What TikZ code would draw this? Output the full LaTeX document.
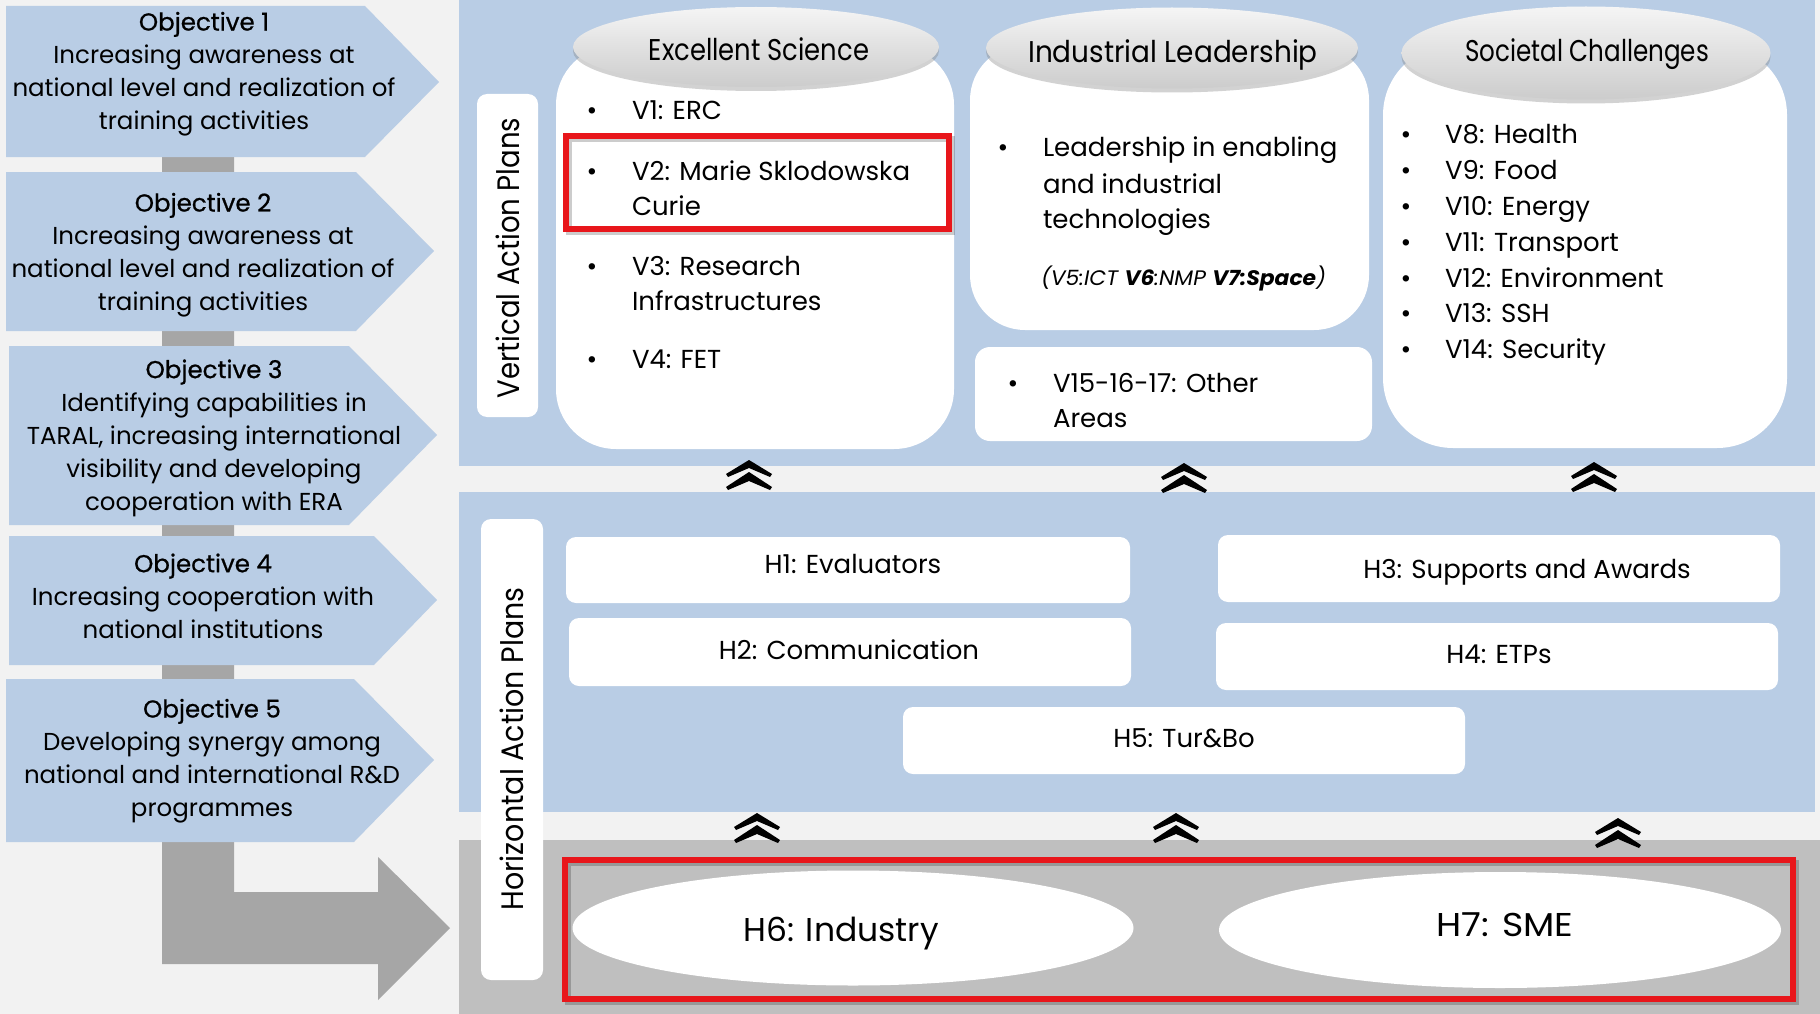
\documentclass[tikz,border=0pt]{standalone}
\usepackage{fontspec}
\setmainfont{Poppins}
\newfontfamily\headfont{Poppins}[FakeBold=0.8]
\usetikzlibrary{shapes.geometric,shadows}
\definecolor{bgc}{HTML}{F2F2F2}
\definecolor{blu}{HTML}{B9CDE5}
\definecolor{grarrow}{HTML}{A6A6A6}
\definecolor{grband}{HTML}{BFBFBF}
\definecolor{redf}{HTML}{E8161B}
\newcommand\fsz[2]{\fontsize{#1}{#2}\selectfont}
\newcommand\sx[2]{\scalebox{#1}[1]{#2}}
\newcommand\dchev[2]{%
  \fill[black] (#1,#2) -- ++(23,14) -- ++(-2,3) -- ++(-21,-9) -- ++(-21,9) -- ++(-2,-3) -- cycle;
  \fill[black] (#1,#2+12) -- ++(23,15) -- ++(-2,3) -- ++(-21,-9) -- ++(-21,9) -- ++(-2,-3) -- cycle;}
\begin{document}
\begin{tikzpicture}[x=1pt,y=-1pt,
  every node/.style={inner sep=0pt,outer sep=0pt,text=black},
  objtxt/.style={align=center,font=\fsz{24.5}{33}},
  itm/.style={anchor=base west,font=\fsz{26}{35}},
  bul/.style={anchor=base,font=\fsz{26}{35}},
  htxt/.style={anchor=base,font=\fsz{26}{35}},
  hdr/.style={ellipse,top color=gray!8,bottom color=gray!40,
    drop shadow={opacity=0.35,shadow xshift=0pt,shadow yshift=-4pt}},
  hdrtxt/.style={font=\fsz{30}{36},text height=21pt,text depth=0pt},
  bigell/.style={ellipse,fill=white},
  bigtxt/.style={anchor=base,font=\fsz{33}{40}},
  vlab/.style={rotate=90,font=\fsz{31}{36},text height=22pt,text depth=0pt},
  wbox/.style={fill=white},
  redframe/.style={draw=redf,line width=6pt},
  objshape/.style={fill=blu}]
\useasboundingbox (0,0) rectangle (1820,1014);
\fill[bgc] (0,0) rectangle (1820,1014);
% grey connector and bent arrow
\fill[grarrow] (162,150) -- (162,964) -- (378,964) -- (378,1000) -- (450,928)
  -- (378,857) -- (378,892) -- (234,892) -- (234,150) -- cycle;
% objectives
\fill[objshape] (6,6) -- (365,6) -- (439,82) -- (365,157) -- (6,157) -- cycle;
\fill[objshape] (6,172) -- (356,172) -- (434,251) -- (356,331) -- (6,331) -- cycle;
\fill[objshape] (9,346) -- (349,346) -- (437,435) -- (349,525) -- (9,525) -- cycle;
\fill[objshape] (9,536) -- (374,536) -- (437,600) -- (374,665) -- (9,665) -- cycle;
\fill[objshape] (6,679) -- (354,679) -- (434,760) -- (354,842) -- (6,842) -- cycle;
\node[objtxt] (o1) at (204,74) {{\headfont Objective 1}\\Increasing awareness at\\national level and realization of\\training activities};
\node[objtxt] (o2) at (203,255) {{\headfont Objective 2}\\Increasing awareness at\\national level and realization of\\training activities};
\node[objtxt] (o3) at (214,438) {{\headfont Objective 3}\\Identifying capabilities in\\TARAL, increasing international\\visibility and developing\\cooperation with ERA};
\node[objtxt] (o4) at (203,596) {{\headfont Objective 4}\\Increasing cooperation with\\national institutions};
\node[objtxt] (o5) at (212,761) {{\headfont Objective 5}\\Developing synergy among\\national and international R\&D\\programmes};
% right panel bands
\fill[blu] (459,0) rectangle (1815,466);
\fill[blu] (459,492) rectangle (1815,812);
\fill[grband] (459,840) rectangle (1820,1014);
% label boxes
\fill[white,rounded corners=10] (477,94) rectangle (538,417);
\fill[white,rounded corners=10] (481,519) rectangle (543,980);
\node[vlab] (vap) at (508,258) {\sx{0.89}{Vertical Action Plans}};
\node[vlab] (hap) at (512,749) {\sx{0.92}{Horizontal Action Plans}};
% pillar boxes
\fill[wbox,rounded corners=60] (556,45) rectangle (954,449);
\fill[wbox,rounded corners=55] (970,45) rectangle (1369,330);
\fill[wbox,rounded corners=70] (1383,45) rectangle (1787,448);
\fill[wbox,rounded corners=15] (975,347) rectangle (1372,441);
\node[hdr,minimum width=366,minimum height=80] (es) at (756,47) {};
\node[hdr,minimum width=372,minimum height=81] (il) at (1172,48) {};
\node[hdr,minimum width=369,minimum height=93] (sc) at (1586,53) {};
\node[hdrtxt] (est) at (759,50) {\sx{0.86}{Excellent Science}};
\node[hdrtxt] (ilt) at (1173,52) {\sx{0.93}{Industrial Leadership}};
\node[hdrtxt] (sct) at (1587,51) {\sx{0.82}{Societal Challenges}};
% Excellent science items
\node[bul] (eb1) at (592,120) {•}; \node[itm] (v1) at (632,120) {V1: ERC};
\node[bul] (eb2) at (592,180) {•}; \node[itm] (v2a) at (632,180) {V2: Marie Sklodowska};
\node[itm] (v2b) at (632,215) {Curie};
\node[bul] (eb3) at (592,275) {•}; \node[itm] (v3a) at (632,275) {V3: Research};
\node[itm] (v3b) at (632,310) {Infrastructures};
\node[bul] (eb4) at (592,368) {•}; \node[itm] (v4) at (632,368) {V4: FET};
\draw[black,opacity=0.2,line width=6pt] (569,139) rectangle (952,232);
\draw[redframe] (566,136) rectangle (949,229);
% Industrial leadership items
\node[bul] (ib1) at (1003,157) {•};
\node[itm] (il1) at (1043,157) {Leadership in enabling};
\node[itm] (il2) at (1043,193) {and industrial};
\node[itm] (il3) at (1043,228) {technologies};
\node[anchor=base west,font=\fsz{21}{24}\itshape] (il4) at (1041,285) {\sx{1.04}{(V5:ICT \textbf{V6}:NMP \textbf{V7:Space})}};
\node[bul] (ob1) at (1013,392) {•};
\node[itm] (oa1) at (1053,392) {V15-16-17: Other};
\node[itm] (oa2) at (1053,427) {Areas};
% Societal challenges items
\node[bul] (sb1) at (1406,143) {•}; \node[itm] (v8) at (1445,143) {V8: Health};
\node[bul] (sb2) at (1406,179) {•}; \node[itm] (v9) at (1445,179) {V9: Food};
\node[bul] (sb3) at (1406,215) {•}; \node[itm] (v10) at (1445,215) {V10: Energy};
\node[bul] (sb4) at (1406,251) {•}; \node[itm] (v11) at (1445,251) {V11: Transport};
\node[bul] (sb5) at (1406,287) {•}; \node[itm] (v12) at (1445,287) {V12: Environment};
\node[bul] (sb6) at (1406,322) {•}; \node[itm] (v13) at (1445,322) {V13: SSH};
\node[bul] (sb7) at (1406,358) {•}; \node[itm] (v14) at (1445,358) {V14: Security};
% chevrons
\dchev{749}{460}\dchev{1184}{463}\dchev{1594}{462}
\dchev{757}{813}\dchev{1176}{813}\dchev{1618}{818}
% horizontal plans
\fill[wbox,rounded corners=10] (566,537) rectangle (1130,603);
\fill[wbox,rounded corners=10] (569,618) rectangle (1131,686);
\fill[wbox,rounded corners=10] (1218,535) rectangle (1780,602);
\fill[wbox,rounded corners=10] (1216,623) rectangle (1778,690);
\fill[wbox,rounded corners=10] (903,707) rectangle (1465,774);
\node[htxt] (h1) at (853,573) {H1: Evaluators};
\node[htxt] (h2) at (849,659) {H2: Communication};
\node[htxt] (h3) at (1527,578) {H3: Supports and Awards};
\node[htxt] (h4) at (1499,663) {H4: ETPs};
\node[htxt] (h5) at (1184,747) {H5: Tur\&Bo};
% bottom band
\draw[black,opacity=0.2,line width=6pt] (568,863) rectangle (1796,1002);
\draw[redframe] (565,860) rectangle (1793,999);
\node[bigell,minimum width=561,minimum height=115] (h6) at (853,928) {};
\node[bigell,minimum width=562,minimum height=116] (h7) at (1500,930) {};
\node[bigtxt] (h6t) at (841,941) {H6: Industry};
\node[bigtxt] (h7t) at (1505,936) {\sx{1.1}{H7: SME}};
\end{tikzpicture}
\end{document}
